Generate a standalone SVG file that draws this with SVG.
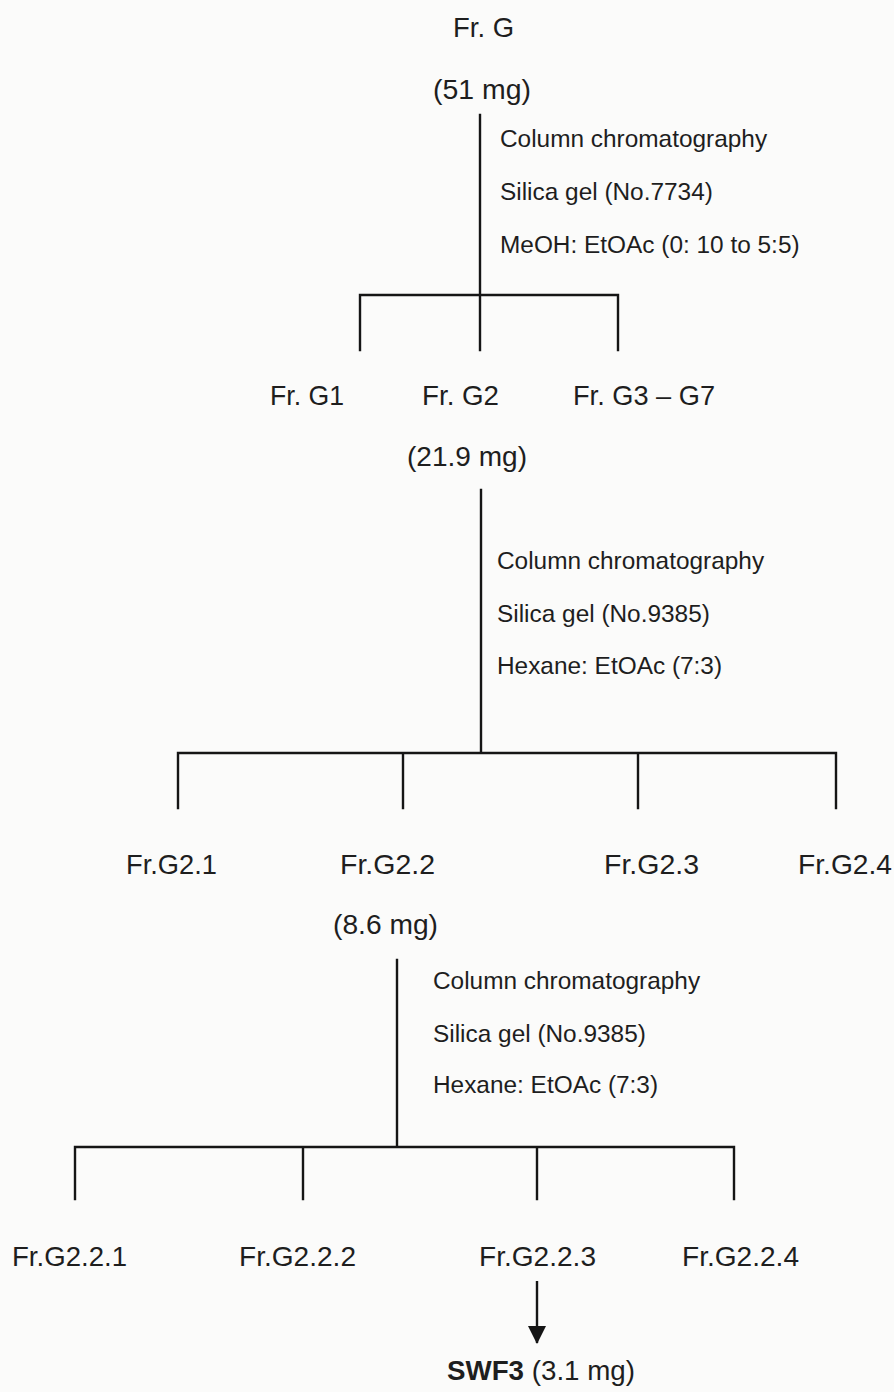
<svg xmlns="http://www.w3.org/2000/svg" width="894" height="1392" viewBox="0 0 894 1392">
<style>
  .lbl { font-family: "Liberation Sans", Arial, sans-serif; font-size: 27.5px; fill: #1e1e1e; }
  .mg { font-family: "Liberation Sans", Arial, sans-serif; font-size: 27.5px; fill: #1e1e1e; }
  .meth { font-family: "Liberation Sans", Arial, sans-serif; font-size: 24.4px; fill: #1e1e1e; }
  .b { font-weight: bold; }
  .ln { stroke: #151515; stroke-width: 2.4; fill: none; stroke-linecap: square; }
</style>
<defs>
  <marker id="arrow" markerWidth="18" markerHeight="18" refX="17" refY="9" orient="auto" markerUnits="userSpaceOnUse">
    <path d="M0,0 L18,9 L0,18 Z" fill="#151515"/>
  </marker>
</defs>
<rect x="0" y="0" width="894" height="1392" fill="#fbfbfa"/>

<g id="connectors">
  <path class="ln" d="M480,115 V295 M360,295 H618 M360,295 V350 M480,295 V350 M618,295 V350"/>
  <path class="ln" d="M481,490 V753 M178,753 H836 M178,753 V808 M403,753 V808 M638,753 V808 M836,753 V808"/>
  <path class="ln" d="M397,960 V1147 M75,1147 H734 M75,1147 V1199 M303,1147 V1199 M537,1147 V1199 M734,1147 V1199"/>
  <line x1="537" y1="1281" x2="537" y2="1343" stroke="#151515" stroke-width="2.4" marker-end="url(#arrow)"/>
</g>

<g id="frG">
  <text class="lbl" x="453" y="37" textLength="61" lengthAdjust="spacingAndGlyphs">Fr. G</text>
  <text class="mg" x="433" y="99" textLength="98" lengthAdjust="spacingAndGlyphs">(51 mg)</text>
</g>
<g id="method1">
  <text class="meth" x="500" y="147">Column chromatography</text>
  <text class="meth" x="500" y="200">Silica gel (No.7734)</text>
  <text class="meth" x="500" y="253">MeOH: EtOAc (0: 10 to 5:5)</text>
</g>
<g id="frG1"><text class="lbl" x="270" y="405" textLength="74" lengthAdjust="spacingAndGlyphs">Fr. G1</text></g>
<g id="frG2">
  <text class="lbl" x="422" y="405" textLength="77" lengthAdjust="spacingAndGlyphs">Fr. G2</text>
  <text class="mg" x="407" y="466" textLength="120" lengthAdjust="spacingAndGlyphs">(21.9 mg)</text>
</g>
<g id="frG3-G7"><text class="lbl" x="573" y="405" textLength="142" lengthAdjust="spacingAndGlyphs">Fr. G3 – G7</text></g>
<g id="method2">
  <text class="meth" x="497" y="569">Column chromatography</text>
  <text class="meth" x="497" y="622">Silica gel (No.9385)</text>
  <text class="meth" x="497" y="674">Hexane: EtOAc (7:3)</text>
</g>
<g id="frG2.1"><text class="lbl" x="126" y="874" textLength="91" lengthAdjust="spacingAndGlyphs">Fr.G2.1</text></g>
<g id="frG2.2">
  <text class="lbl" x="340" y="874" textLength="95" lengthAdjust="spacingAndGlyphs">Fr.G2.2</text>
  <text class="mg" x="333" y="934" textLength="105" lengthAdjust="spacingAndGlyphs">(8.6 mg)</text>
</g>
<g id="frG2.3"><text class="lbl" x="604" y="874" textLength="95" lengthAdjust="spacingAndGlyphs">Fr.G2.3</text></g>
<g id="frG2.4"><text class="lbl" x="798" y="874" textLength="94" lengthAdjust="spacingAndGlyphs">Fr.G2.4</text></g>
<g id="method3">
  <text class="meth" x="433" y="989">Column chromatography</text>
  <text class="meth" x="433" y="1042">Silica gel (No.9385)</text>
  <text class="meth" x="433" y="1093">Hexane: EtOAc (7:3)</text>
</g>
<g id="frG2.2.1"><text class="lbl" x="12" y="1266" textLength="115" lengthAdjust="spacingAndGlyphs">Fr.G2.2.1</text></g>
<g id="frG2.2.2"><text class="lbl" x="239" y="1266" textLength="117" lengthAdjust="spacingAndGlyphs">Fr.G2.2.2</text></g>
<g id="frG2.2.3"><text class="lbl" x="479" y="1266" textLength="117" lengthAdjust="spacingAndGlyphs">Fr.G2.2.3</text></g>
<g id="frG2.2.4"><text class="lbl" x="682" y="1266" textLength="117" lengthAdjust="spacingAndGlyphs">Fr.G2.2.4</text></g>
<g id="swf3"><text class="lbl" x="447" y="1380" textLength="188" lengthAdjust="spacingAndGlyphs"><tspan class="b">SWF3</tspan> (3.1 mg)</text></g>
</svg>
